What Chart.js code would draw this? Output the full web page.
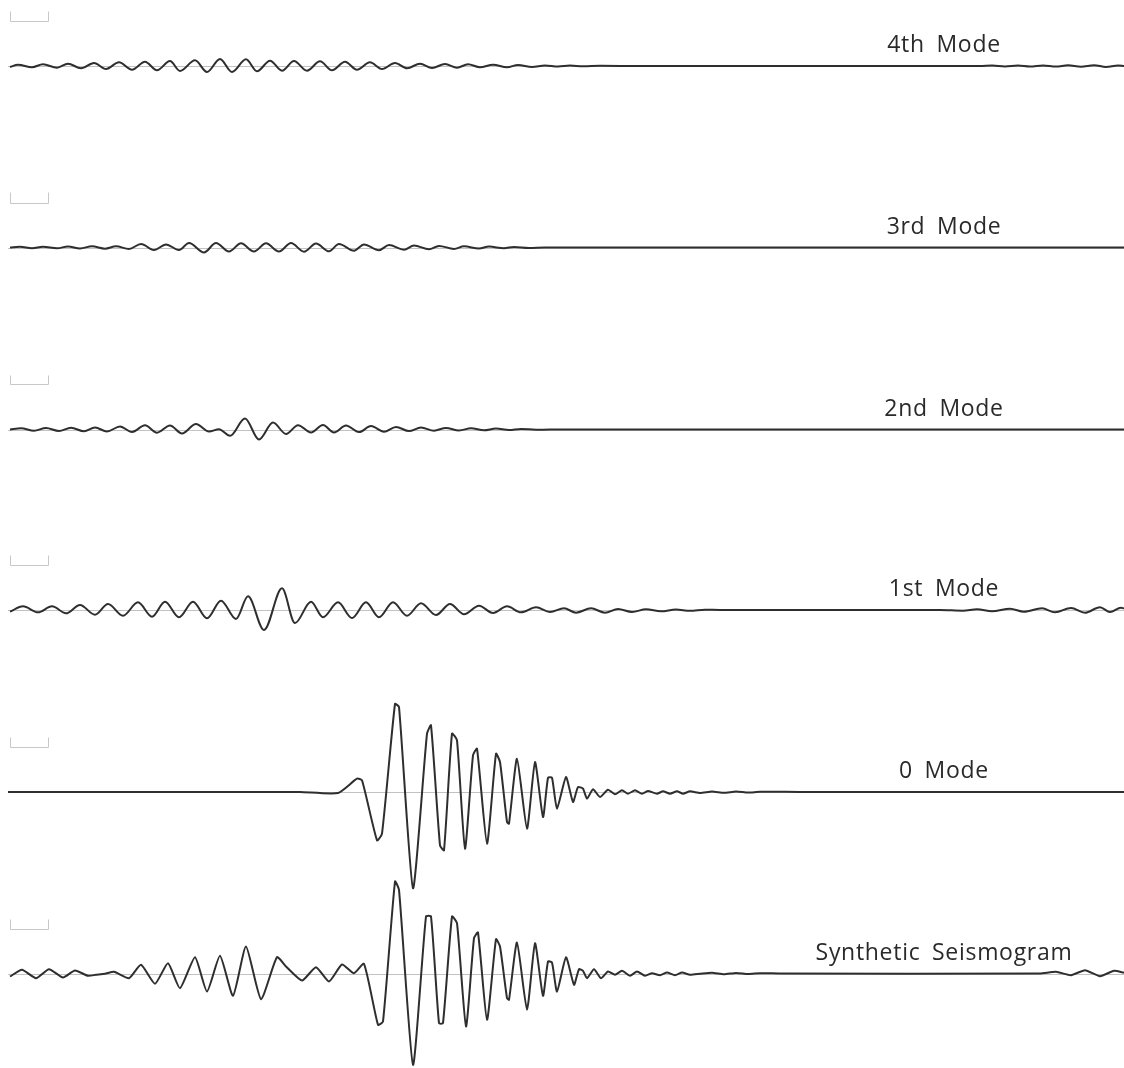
<!DOCTYPE html>
<html>
<head>
<meta charset="utf-8">
<script src="https://cdn.jsdelivr.net/npm/chart.js@4/dist/chart.umd.min.js"></script>
<style>
html,body{margin:0;padding:0;background:#fff;}
#wrap{position:relative;width:1124px;height:1068px;}
</style>
</head>
<body>
<div id="wrap"><canvas id="c"></canvas></div>
<script>
// ---- Data (time position, amplitude) ----
const traceLabels = ["4th Mode", "3rd Mode", "2nd Mode", "1st Mode", "0 Mode", "Synthetic Seismogram"];

const mode4X = [10,18,32,43,57,68,81,94,106,119,132,145,157,170,180,195,207,220,232,246,257,270,282,294,307,320,332,345,357,370,382,395,407,420,432,445,457,468,480,493,507,518,532,545,558,570,583,600,640,980,992,1005,1018,1030,1043,1056,1068,1081,1094,1106,1118,1124];
const mode4Y = [-1,1.3,-1.3,1.7,-1.7,2.3,-2.3,3,-3,3.7,-3.7,4.3,-4.3,5,-5,5.7,-6,7,-6,6.7,-5.3,5.3,-4.7,5,-4.7,4.7,-4.3,4.3,-3.7,3.7,-3,3,-2.3,2.3,-2,2,-1.7,1.7,-1.3,1.3,-1.3,1,-1,0.6,-0.5,0.4,-0.3,0.2,0,0,0.4,-0.4,0.5,-0.5,0.6,-0.6,0.7,-0.7,0.8,-1,0.6,0];

const mode3X = [10,20,32,43,57,68,80,92,105,116,129,141,154,166,179,189,204,216,229,241,254,266,279,291,304,316,329,339,354,364,379,389,404,414,429,439,454,464,479,489,504,514,529,545,1124];
const mode3Y = [0,0.8,-0.8,0.8,-0.8,1,-1,1.2,-1.2,1.2,-1.5,3.5,-2.5,3,-2.5,4.5,-5,4.5,-4,4.2,-4,4.2,-4,4.5,-4.2,4,-3.8,3.5,-3.2,3,-2.7,2.5,-2.2,2,-1.8,1.6,-1.4,1.2,-1,0.9,-0.7,0.6,-0.4,0,0];

const mode2X = [10,21,34,46,59,71,84,95,107,120,132,145,157,170,182,196,209,219,230,245,259,273,286,298,311,323,334,346,359,371,384,396,409,421,434,446,459,471,484,496,509,521,536,550,1124];
const mode2Y = [0,1.3,-1.3,1.5,-1.5,1.8,-1.8,2,-2,3,-2.5,4.2,-3.2,4,-4,5.5,-2,0.3,-6.3,11,-10,7,-4.5,4.3,-3,4.5,-3,4,-2.6,3.4,-2.2,2.6,-1.6,2,-1.2,1.6,-1,1.2,-0.8,0.9,-0.6,0.6,-0.3,0,0];

const mode1X = [10,23,38,52,66,80,95,108,123,138,152,165,179,193,207,221,236,248,264,282,295,311,323,338,352,366,379,393,407,421,436,450,464,479,493,507,521,536,550,564,576,591,605,618,632,646,661,676,690,705,720,940,963,977,992,1010,1024,1042,1055,1071,1085,1100,1110,1121,1124];
const mode1Y = [-1.7,3.7,-2.3,3.7,-3.3,5,-4.7,6,-5.7,7.7,-6.7,8.3,-7.3,8.3,-8.3,9.3,-9,13.7,-20,21.7,-13,8.3,-7.3,7.7,-8,7.7,-7.3,7.7,-5.7,6.7,-5,6,-4.3,4.3,-3,3.7,-2.3,2.7,-2,1.7,-2.7,1.7,-2.7,1,-2,0.7,-1.3,0.5,-0.8,0.3,0,0,-0.7,0.7,-1.3,1.3,-1.7,1.7,-2.3,2,-2.7,2.7,-2,2.3,1.5];

const mode0X = [8,300,338,357,362,377,382,395,399,413,427,431,440,444,452,457,465,473,477,487,496,500,507,509,517,527,535,543,548,552,557,566,573,578,583,587,593,600,608,615,622,628,635,642,648,657,663,670,677,683,690,700,712,724,736,748,760,800,1124];
const mode0Y = [0,0,-1,13.3,11.7,-48.3,-41.7,88,85,-96.3,58.3,66.7,-53.3,-58.3,58.3,51.7,-56.7,36.7,43.3,-51.7,38.3,30,-30,-31.7,33.3,-36.7,30,-25,14.3,14.3,-16.7,15,-10,5,3.3,-6.7,2.7,-5,2.3,-2.3,1.7,-1.7,1.7,-1.7,1,-1.7,0.7,-1.7,0.7,-1.7,0.7,-1,0.5,-0.8,0.5,-0.6,0.3,0,0];

const synthX = [10,22,36,49,63,75,88,96,105,114,129,141,155,168,180,195,207,220,233,246,261,277,286,302,316,329,342,354,364,378,383,395,399,413,426,431,439,443,452,457,466,474,478,487,496,500,507,509,517,527,535,543,548,552,557,566,574,579,583,587,594,601,608,615,622,630,637,645,652,660,667,675,682,690,700,712,724,736,748,760,780,1040,1056,1071,1085,1100,1114,1124];
const synthY = [-3,3.7,-4.7,4.3,-4,3,-2.3,-1.3,-0.3,1.7,-4.7,8.7,-10.3,10.3,-14.7,16.3,-18,17.7,-22.3,27,-25.7,16.3,7,-7,6.3,-8,9,0.3,9.7,-51.3,-48,92,83.7,-91.3,57,57,-49.7,-49.7,57,50.3,-53,35.3,41,-46.3,34.3,27,-24.7,-26.3,31,-36.3,30.3,-22.3,12,11,-18,16.3,-11.3,4.3,2.7,-4.7,4.3,-4.7,2,-1.3,2.7,-2.3,2,-2.3,0.3,-1.7,1,-1.7,1,-1.3,-0.3,0.8,-0.8,0.6,-0.5,0.3,0,0,1.7,-1.7,3.3,-2.7,2.7,0.7];

const traceX = [mode4X, mode3X, mode2X, mode1X, mode0X, synthX];
const traceY = [mode4Y, mode3Y, mode2Y, mode1Y, mode0Y, synthY];

// ---- Layout / style ----
const W = 1124, H = 1068;
const baselinePx = [66, 247.5, 429.5, 610, 792, 973.5];
const monotoneTrace = [true, true, true, true, false, false];
const labelCenterX = 944;

const datasets = traceX.map((xs, i) => {
  const ys = traceY[i];
  const n = Math.min(xs.length, ys.length);
  const pts = [];
  for (let j = 0; j < n; j++) pts.push({x: xs[j], y: ys[j]});
  return {
    label: traceLabels[i],
    data: pts,
    yAxisID: 'y' + i,
    borderColor: '#2e2e2e',
    borderWidth: 2,
    pointRadius: 0,
    fill: false,
    tension: monotoneTrace[i] ? 0.4 : 0.18,
    cubicInterpolationMode: monotoneTrace[i] ? 'monotone' : 'default'
  };
});

const scales = { x: { type: 'linear', min: 0, max: W, display: false } };
baselinePx.forEach((b, i) => {
  scales['y' + i] = { type: 'linear', min: b - H, max: b, display: false };
});

const decor = {
  id: 'decor',
  beforeDatasetsDraw(chart) {
    const ctx = chart.ctx;
    ctx.save();
    traceLabels.forEach((t, i) => {
      const sc = chart.scales['y' + i];
      const y0 = Math.round(sc.getPixelForValue(0)) + 0.5;
      ctx.strokeStyle = '#c2c2c2';
      ctx.lineWidth = 1;
      ctx.beginPath(); ctx.moveTo(8, y0); ctx.lineTo(W, y0); ctx.stroke();
      // scale bracket
      const top = Math.round(sc.getPixelForValue(55)) + 0.5;
      const bot = Math.round(sc.getPixelForValue(45)) + 0.5;
      ctx.strokeStyle = '#c8c8c8';
      ctx.beginPath();
      ctx.moveTo(10.5, top); ctx.lineTo(10.5, bot); ctx.lineTo(48.5, bot); ctx.lineTo(48.5, top);
      ctx.stroke();
    });
    ctx.restore();
  },
  afterDatasetsDraw(chart) {
    const ctx = chart.ctx;
    ctx.save();
    ctx.fillStyle = '#2a2a2a';
    ctx.font = '23px "Open Sans"';
    try { ctx.letterSpacing = '0.7px'; ctx.wordSpacing = '5px'; } catch (e) {}
    ctx.textAlign = 'center';
    ctx.textBaseline = 'alphabetic';
    traceLabels.forEach((t, i) => {
      const sc = chart.scales['y' + i];
      ctx.fillText(t, labelCenterX, sc.getPixelForValue(14));
    });
    ctx.restore();
  }
};

new Chart(document.getElementById('c'), {
  type: 'line',
  data: { datasets },
  options: {
    responsive: true,
    maintainAspectRatio: false,
    animation: false,
    layout: { padding: 0 },
    plugins: { legend: { display: false }, tooltip: { enabled: false } },
    scales
  },
  plugins: [decor]
});
</script>
</body>
</html>
